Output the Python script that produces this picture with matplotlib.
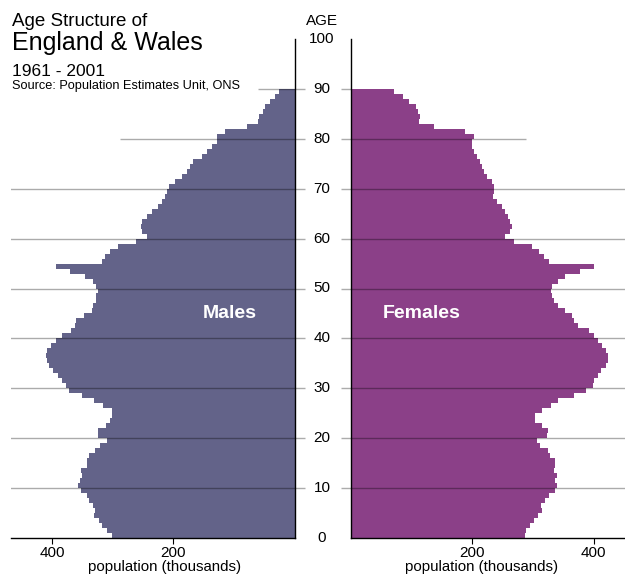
import matplotlib
matplotlib.use("Agg")
import matplotlib.pyplot as plt
import matplotlib.transforms as mtransforms

# ---------------- data (thousands) ----------------
ages = list(range(90))
males = [302, 310, 318, 322, 331, 330, 332, 339, 343, 353,
         357, 354, 350, 352, 343, 343, 340, 330, 321, 310,
         325, 325, 311, 304, 301, 302, 316, 331, 351, 372,
         378, 383, 390, 398, 405, 409, 410, 408, 402, 394,
         383, 369, 362, 360, 347, 335, 333, 328, 328, 324,
         327, 333, 346, 371, 393, 318, 313, 305, 291, 261,
         244, 252, 253, 251, 244, 236, 226, 218, 214, 211,
         207, 197, 186, 178, 173, 167, 153, 145, 137, 128,
         128, 115, 79, 60, 58, 52, 48, 41, 32, 26]
females = [287, 289, 295, 301, 309, 314, 313, 320, 327, 336,
           340, 336, 340, 334, 336, 336, 328, 325, 312, 306,
           323, 325, 314, 304, 304, 315, 329, 342, 367, 388,
           399, 400, 408, 412, 421, 423, 423, 421, 414, 407,
           400, 392, 375, 368, 364, 353, 341, 334, 331, 330,
           331, 341, 352, 378, 400, 326, 318, 310, 298, 268,
           253, 262, 265, 262, 258, 254, 249, 240, 234, 235,
           236, 232, 224, 219, 216, 213, 208, 203, 199, 200,
           202, 188, 136, 111, 113, 110, 107, 96, 85, 71]
age_labels = [0, 10, 20, 30, 40, 50, 60, 70, 80, 90, 100]
grid_ages = [10, 20, 30, 40, 50, 60, 70, 80, 90]
grid_len_left = [470, 470, 470, 470, 470, 470, 470, 288, 60]
grid_len_right = [470, 470, 470, 470, 470, 470, 470, 288, 0]
x_ticks = [200, 400]

MALE_C = "#636389"
FEMALE_C = "#8b4088"
GRID_C = "black"

plt.rcParams["font.family"] = ["Liberation Sans", "DejaVu Sans"]

W, H = 625, 579
fig = plt.figure(figsize=(W / 100, H / 100), dpi=100)

XMAX = 468
y0 = (H - 538) / H
hh = 499 / H
axL = fig.add_axes([11 / W, y0, 283.5 / W, hh])
axR = fig.add_axes([351.3 / W, y0, 283.5 / W, hh])

for ax, vals, col, glen in [(axL, males, MALE_C, grid_len_left),
                            (axR, females, FEMALE_C, grid_len_right)]:
    ax.barh(ages, vals, height=1.0, align="edge", color=col, linewidth=0, zorder=2)
    for g, L in zip(grid_ages, glen):
        if L > 0:
            ax.hlines(g, 0, L, color=GRID_C, alpha=0.33, linewidth=1.0, zorder=3)
    ax.set_ylim(0, 100)
    ax.set_yticks(grid_ages)
    ax.set_xticks(x_ticks)
    ax.set_xticklabels([str(t) for t in x_ticks], fontsize=11)
    ax.tick_params(axis="x", length=4, width=0.8, pad=2, direction="out")
    ax.tick_params(axis="y", length=7, width=1.0, color="#acacac", direction="out")
    ax.spines["top"].set_visible(False)
    for s in ax.spines.values():
        s.set_linewidth(1.0)

axL.set_xlim(XMAX, 0)
axL.spines["left"].set_visible(False)
axL.yaxis.set_ticks_position("right")
axL.tick_params(axis="y", labelright=False, labelleft=False)

axR.set_xlim(0, XMAX)
axR.spines["right"].set_visible(False)
axR.yaxis.set_ticks_position("left")
axR.tick_params(axis="y", labelleft=False, labelright=False)

# age labels between the panels
tr = mtransforms.blended_transform_factory(fig.transFigure, axR.transData)
for a in age_labels:
    fig.text(322 / W, a, str(a), transform=tr, ha="center", va="center", fontsize=11)

fig.text(322 / W, 1 - 25 / H, "AGE", ha="center", va="baseline", fontsize=11)

# titles
fig.text(12 / W, 1 - 25.5 / H, "Age Structure of", ha="left", va="baseline", fontsize=13.5)
fig.text(12 / W, 1 - 50 / H, "England & Wales", ha="left", va="baseline", fontsize=18)
fig.text(12 / W, 1 - 76 / H, "1961 - 2001", ha="left", va="baseline", fontsize=12.5)
fig.text(12 / W, 1 - 89.5 / H, "Source: Population Estimates Unit, ONS", ha="left",
         va="baseline", fontsize=9.2)

# panel labels
fig.text(230 / W, 1 - 313 / H, "Males", ha="center", va="center", fontsize=14,
         fontweight="bold", color="white")
fig.text(422 / W, 1 - 313 / H, "Females", ha="center", va="center", fontsize=14,
         fontweight="bold", color="white")

# axis titles
fig.text(164.5 / W, 1 - 567 / H, "population (thousands)", ha="center", va="center", fontsize=10.8)
fig.text(481.7 / W, 1 - 567 / H, "population (thousands)", ha="center", va="center", fontsize=10.8)

fig.savefig("out.png", dpi=100)
